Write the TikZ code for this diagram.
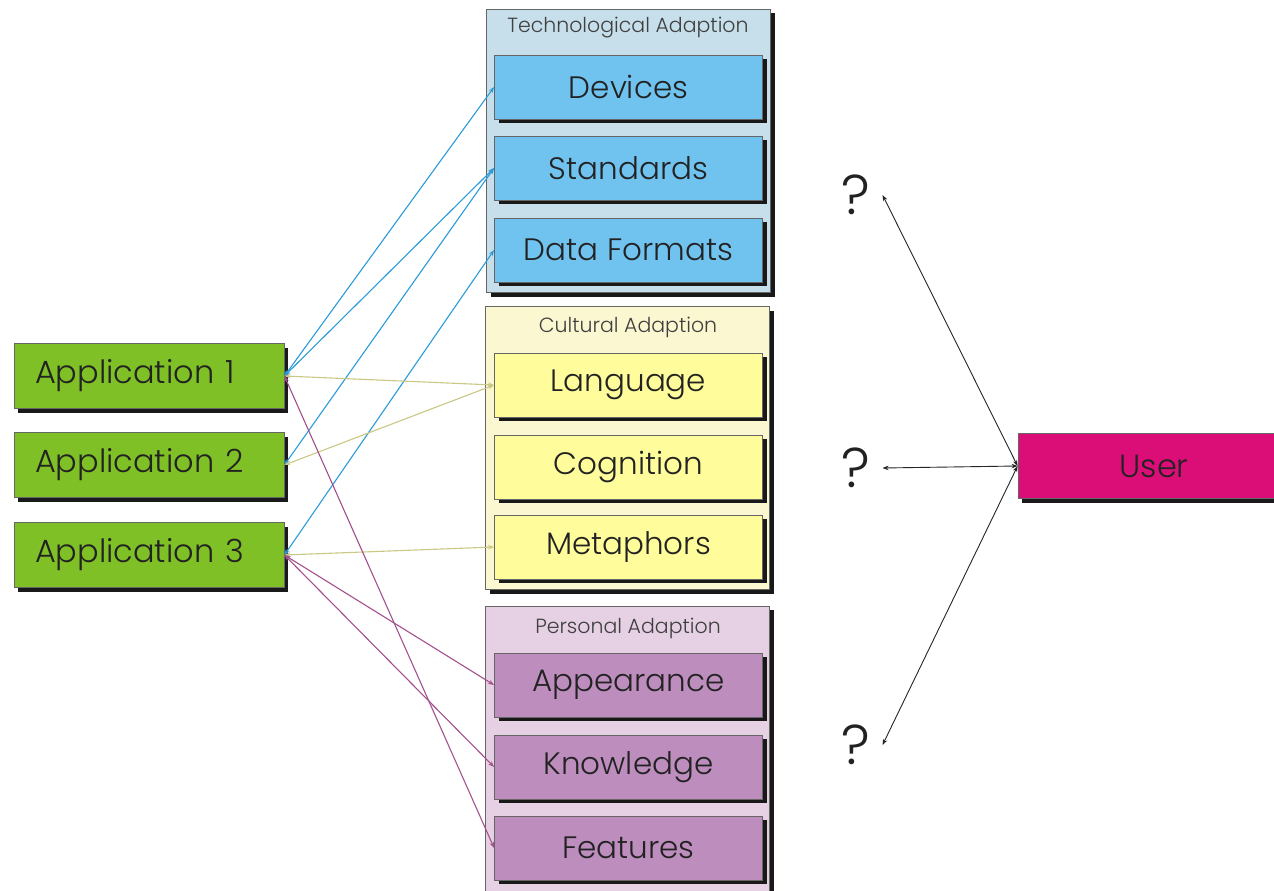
\documentclass[tikz,border=0pt]{standalone}
\usepackage{fontspec}
\setmainfont{Poppins Light}
\usetikzlibrary{shadows,arrows.meta}
\definecolor{appgreen}{HTML}{7EC025}
\definecolor{techbg}{HTML}{C6DFEA}
\definecolor{techbox}{HTML}{70C2EF}
\definecolor{cultbg}{HTML}{FBF7D0}
\definecolor{cultbox}{HTML}{FFFC9C}
\definecolor{persbg}{HTML}{E5D0E4}
\definecolor{persbox}{HTML}{BD8DBE}
\definecolor{usermag}{HTML}{DB0E78}
\definecolor{linkblue}{HTML}{2C9BD9}
\definecolor{linkolive}{HTML}{C9C884}
\definecolor{linkpurple}{HTML}{A5508D}
\definecolor{txt}{HTML}{222222}
\tikzset{
  shadowed/.style={draw=black!60, line width=0.8pt,
    drop shadow={shadow xshift=4pt, shadow yshift=-4pt, fill=black!90, opacity=1}},
  groupbox/.style={shadowed, minimum width=284pt, minimum height=283pt},
  itembox/.style={shadowed, minimum width=268pt, minimum height=64pt,
    font=\fontsize{31}{34}\selectfont, text=txt},
  appbox/.style={shadowed, fill=appgreen, minimum height=65pt,
    inner xsep=21pt, text width=228pt, align=left,
    font=\fontsize{32}{36}\selectfont, text=txt},
  grouptitle/.style={font=\fontsize{20.5}{24}\selectfont, text=black!75},
  qmark/.style={font=\fontsize{56}{60}\selectfont, text=txt, inner xsep=12pt},
  link/.style={line width=1.1pt, {Stealth[length=6pt,width=4.5pt]}-{Stealth[length=6pt,width=4.5pt]}},
  blue link/.style={link, draw=linkblue},
  olive link/.style={link, draw=linkolive},
  purple link/.style={link, draw=linkpurple},
  user link/.style={line width=0.9pt, draw=black!85, {Stealth[length=6pt,width=4.5pt]}-{Stealth[length=6pt,width=4.5pt]}}
}
\begin{document}
\begin{tikzpicture}[x=1pt,y=-1pt]
\useasboundingbox (0,0) rectangle (1274,891);
\fill[white] (0,0) rectangle (1274,891);

% adaption groups
\node[groupbox, fill=techbg] (tech) at (628.5,151) {};
\node[groupbox, fill=cultbg] (cult) at (627.5,448) {};
\node[groupbox, fill=persbg, minimum height=288pt] (pers) at (627.5,750) {};
\node[grouptitle] (techT) at (628,28) {Technological Adaption};
\node[grouptitle] (cultT) at (628,327) {Cultural Adaption};
\node[grouptitle] (persT) at (628,628) {Personal Adaption};

% technological items
\node[itembox, fill=techbox] (dev) at (628.5,87) {Devices};
\node[itembox, fill=techbox] (std) at (628.5,168) {Standards};
\node[itembox, fill=techbox] (fmt) at (628.5,250) {Data Formats};
% cultural items
\node[itembox, fill=cultbox] (lang) at (628.5,385) {Language};
\node[itembox, fill=cultbox] (cog) at (628.5,467) {Cognition};
\node[itembox, fill=cultbox] (meta) at (628.5,547) {Metaphors};
% personal items
\node[itembox, fill=persbox] (app) at (628.5,685) {Appearance};
\node[itembox, fill=persbox] (know) at (628.5,767) {Knowledge};
\node[itembox, fill=persbox] (feat) at (628.5,848) {Features};

% applications
\node[appbox] (a1) at (149,376) {Application 1};
\node[appbox] (a2) at (149,465) {Application 2};
\node[appbox] (a3) at (149,555) {Application 3};

% user
\node[shadowed, fill=usermag, minimum width=272pt, minimum height=65pt,
  font=\fontsize{32}{36}\selectfont, text=txt] (user) at (1154,466) {User};

% unknown partners
\node[qmark] (q1) at (856,195) {?};
\node[qmark] (q2) at (856,468) {?};
\node[qmark] (q3) at (856,745) {?};

% technological links
\draw[blue link] (a1.east) -- (dev.west);
\draw[blue link] (a1.east) -- (std.west);
\draw[blue link] (a2.east) -- (std.west);
\draw[blue link] (a3.east) -- (fmt.west);
% cultural links
\draw[olive link] (a1.east) -- (lang.west);
\draw[olive link] (a2.east) -- (lang.west);
\draw[olive link] (a3.east) -- (meta.west);
% personal links
\draw[purple link] (a1.east) -- (feat.west);
\draw[purple link] (a3.east) -- (app.west);
\draw[purple link] (a3.east) -- (know.west);

% user links
\draw[user link] (user.west) -- (q1.east);
\draw[user link] (user.west) -- (q2.east);
\draw[user link] (user.west) -- (q3.east);
\end{tikzpicture}
\end{document}
